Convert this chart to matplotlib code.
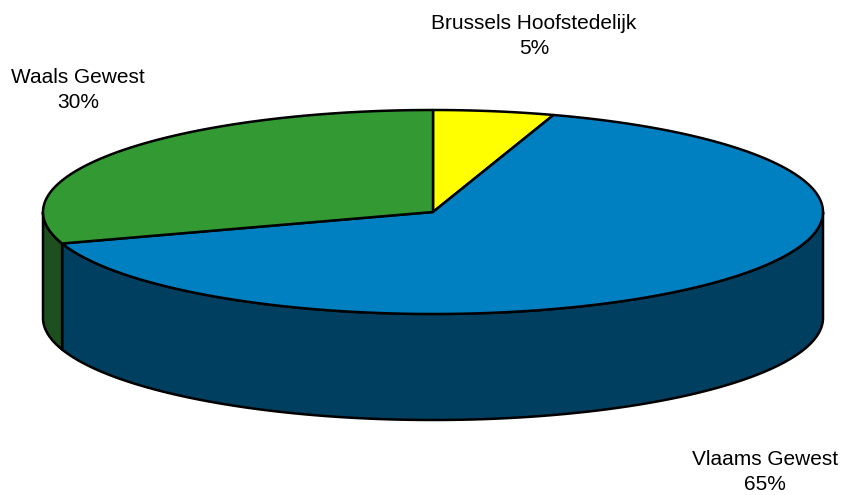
#!/usr/bin/env python3
"""3D-style pie chart of the share per Belgian region."""

import matplotlib as mpl

mpl.use("Agg")

import matplotlib.pyplot as plt
import numpy as np
from matplotlib.patches import Polygon

# data
regions = ["Brussels Hoofstedelijk", "Vlaams Gewest", "Waals Gewest"]
shares = [5, 65, 30]
top_colors = ["#ffff00", "#0080c0", "#339933"]
side_colors = ["#808000", "#003f5f", "#1e4f1e"]

# layout (pixels)
W, H = 844, 495
CX, CY = 433, 212
RX, RY = 390, 102
DEPTH = 106
label_pos = {
    "Brussels Hoofstedelijk": (534, 36),
    "Vlaams Gewest": (765, 472),
    "Waals Gewest": (78, 90),
}


def ellipse_pts(a0, a1, dy=0.0, n=200):
    t = np.radians(np.linspace(a0, a1, n))
    return np.column_stack([CX + RX * np.sin(t), CY - RY * np.cos(t) + dy])


fig = plt.figure(figsize=(W / 100, H / 100), dpi=100)
ax = fig.add_axes([0, 0, 1, 1])
ax.set_xlim(0, W)
ax.set_ylim(H, 0)
ax.axis("off")

bounds = np.concatenate([[0], np.cumsum(shares)]) / sum(shares) * 360.0

# side walls (only the front half is visible)
for i in range(len(shares)):
    s, e = max(bounds[i], 90.0), min(bounds[i + 1], 270.0)
    if e <= s:
        continue
    top = ellipse_pts(s, e)
    bot = ellipse_pts(e, s, dy=DEPTH)
    ax.add_patch(Polygon(np.vstack([top, bot]), closed=True,
                         facecolor=side_colors[i], edgecolor="black", lw=1.8,
                         joinstyle="round"))

# top faces
for i in range(len(shares)):
    arc = ellipse_pts(bounds[i], bounds[i + 1])
    pts = np.vstack([[CX, CY], arc])
    ax.add_patch(Polygon(pts, closed=True, facecolor=top_colors[i],
                         edgecolor="black", lw=1.8, joinstyle="round"))

for name, val in zip(regions, shares):
    x, y = label_pos[name]
    ax.text(x, y, f"{name}\n{val}%", ha="center", va="center",
            fontsize=15, family="Liberation Sans", linespacing=1.4)

fig.savefig("out.png", dpi=100)
plt.close(fig)
